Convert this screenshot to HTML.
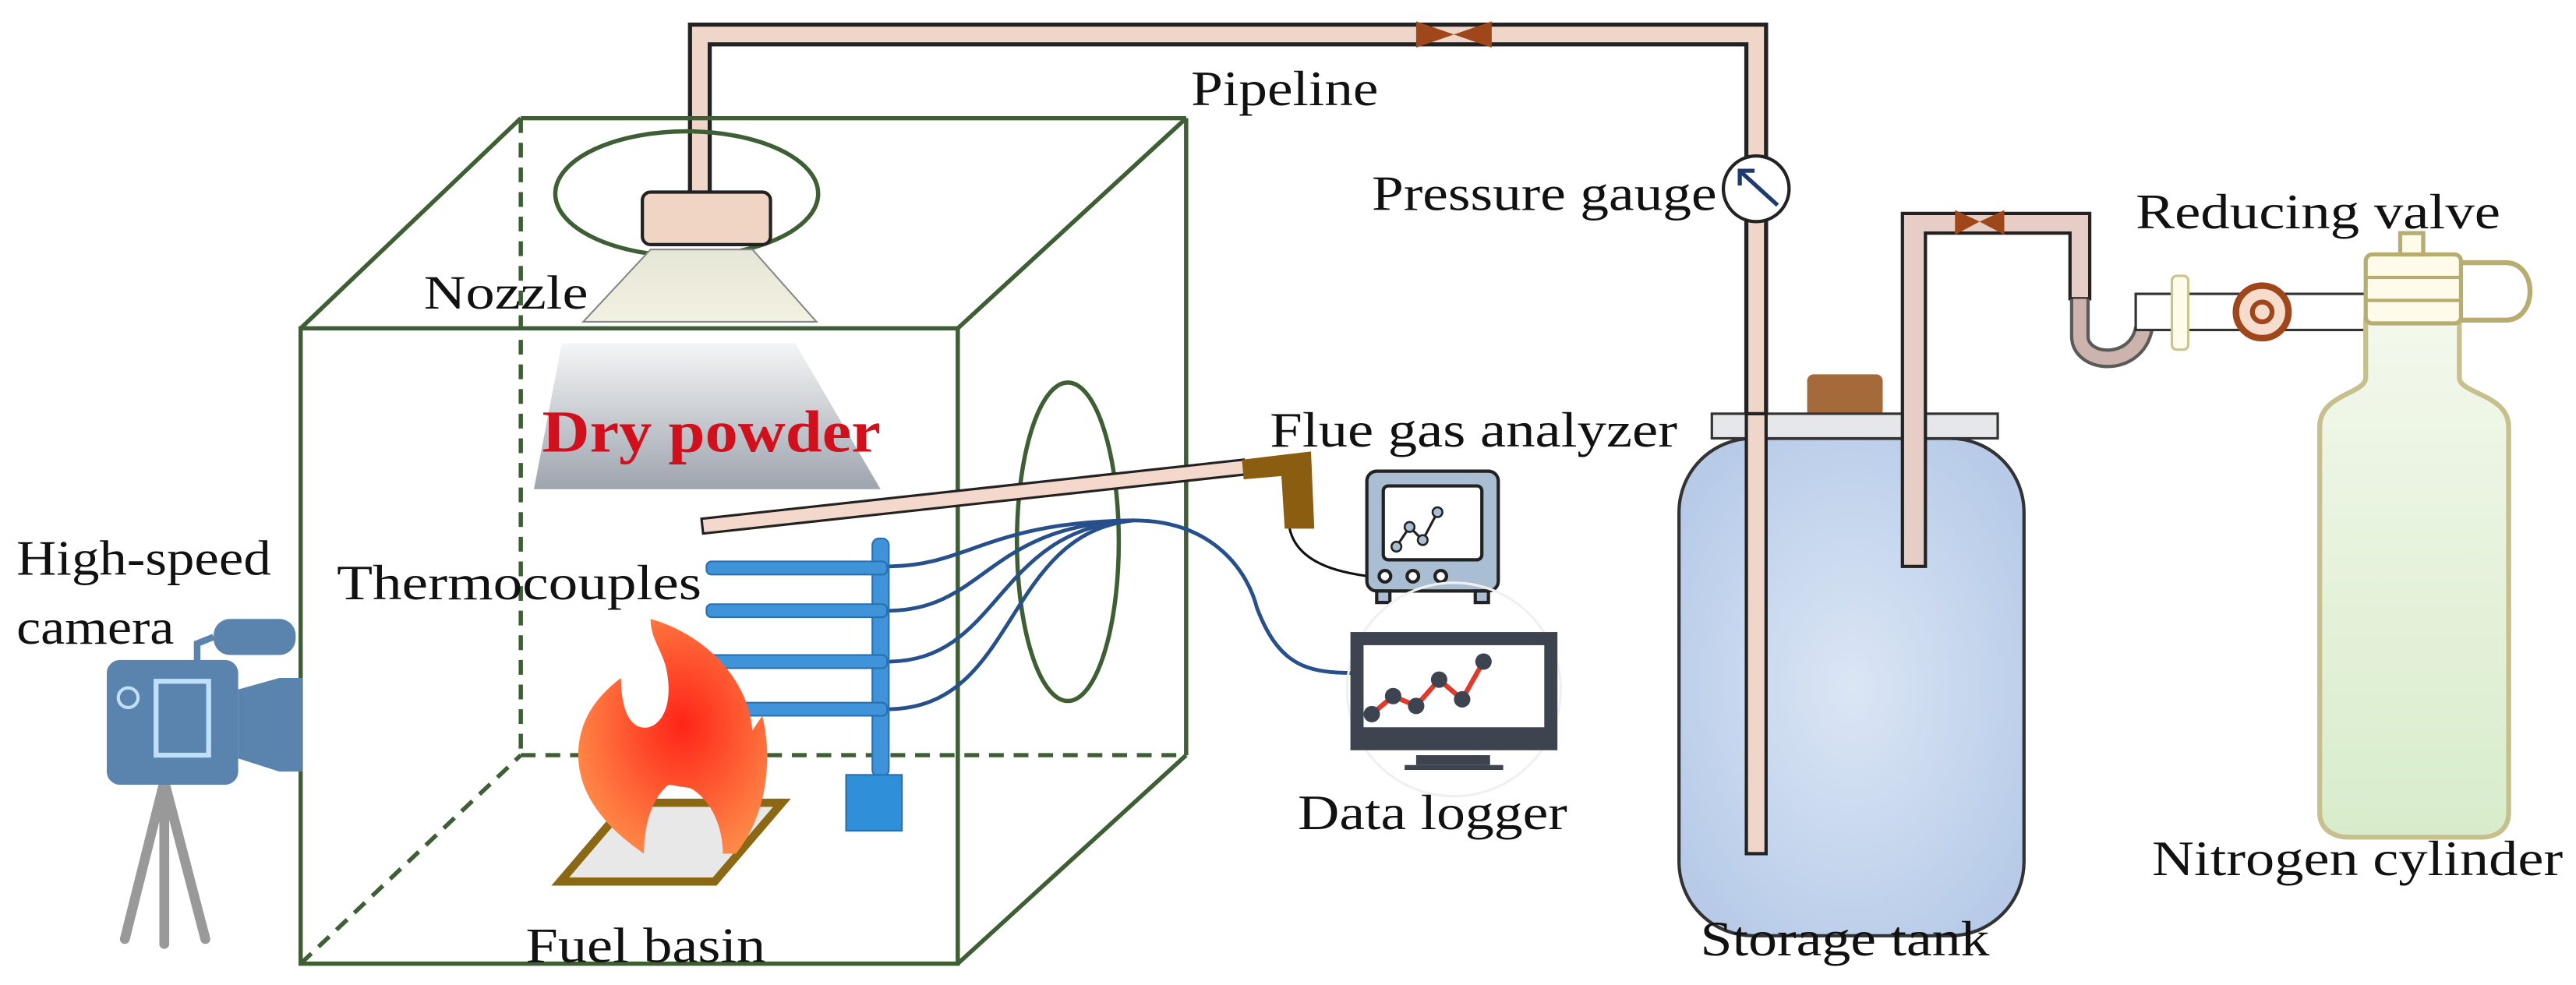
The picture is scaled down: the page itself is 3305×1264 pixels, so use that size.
<!DOCTYPE html>
<html><head><meta charset="utf-8"><style>
html,body{margin:0;padding:0;background:#fff;}
svg{display:block;}
</style></head><body>
<svg width="3305" height="1264" viewBox="0 0 1568 600" preserveAspectRatio="none" xmlns="http://www.w3.org/2000/svg" font-family="'Liberation Serif', 'DejaVu Serif', serif">
<defs>
<linearGradient id="dp" x1="0" y1="0" x2="0" y2="1"><stop offset="0" stop-color="#f4f5f6"/><stop offset="1" stop-color="#9ea4ae"/></linearGradient>
<linearGradient id="nz" x1="0" y1="0" x2="0" y2="1"><stop offset="0" stop-color="#e6e6d6"/><stop offset="1" stop-color="#f3f1e2"/></linearGradient>
<radialGradient id="tank" cx="0.5" cy="0.5" r="0.6"><stop offset="0" stop-color="#dbe6f5"/><stop offset="1" stop-color="#b7cbe8"/></radialGradient>
<linearGradient id="cyl" x1="0" y1="0" x2="0" y2="1"><stop offset="0" stop-color="#f3f8ec"/><stop offset="1" stop-color="#d8eccb"/></linearGradient>
<radialGradient id="fire" cx="0.55" cy="0.45" r="0.6"><stop offset="0" stop-color="#ff2418"/><stop offset="1" stop-color="#ff8a48"/></radialGradient>
</defs>

<!-- box back dashed -->
<g stroke="#3d5f33" stroke-width="2.6" fill="none">
<line x1="317" y1="72" x2="317" y2="460" stroke-dasharray="9,6"/>
<line x1="317" y1="460" x2="722" y2="460" stroke-dasharray="9,6"/>
<line x1="183" y1="587" x2="317" y2="460" stroke-dasharray="9,6"/>
</g>

<!-- pipeline -->
<path d="M420,118 L420,15 L1075,15 L1075,520 L1063,520 L1063,27 L432,27 L432,118 Z" fill="#f0d6c8" stroke="#222" stroke-width="2.5"/>
<path d="M862,13 L885,21 L862,29 Z M908,13 L885,21 L908,29 Z" fill="#a0461b"/>

<!-- nozzle -->
<ellipse cx="418" cy="118" rx="80" ry="38" fill="none" stroke="#3d5f33" stroke-width="2.6"/>
<rect x="391" y="117" width="78" height="32" rx="5" fill="#f0d5c5" stroke="#222" stroke-width="2"/>
<polygon points="396,152 458,152 497,196 355,196" fill="url(#nz)" stroke="#888" stroke-width="1"/>
<text x="258" y="188" font-size="29" textLength="100" lengthAdjust="spacingAndGlyphs" fill="#111">Nozzle</text>

<!-- dry powder -->
<polygon points="342,209 484,209 536,298 325,298" fill="url(#dp)"/>
<text x="330" y="275" font-size="36" font-weight="bold" fill="#d0101c" textLength="206" lengthAdjust="spacingAndGlyphs">Dry powder</text>

<!-- front box -->
<g stroke="#3d5f33" stroke-width="2.6" fill="none">
<rect x="183" y="200" width="400" height="387"/>
<line x1="183" y1="200" x2="317" y2="72"/>
<line x1="317" y1="72" x2="722" y2="72"/>
<line x1="583" y1="200" x2="722" y2="72"/>
<line x1="722" y1="72" x2="722" y2="460"/>
<line x1="583" y1="587" x2="722" y2="460"/>
</g>

<!-- side ellipse -->
<ellipse cx="650" cy="330" rx="31" ry="97" fill="none" stroke="#3d5f33" stroke-width="2.6"/>

<!-- probe -->
<polygon points="427,316 757,280 758,289 428,325" fill="#f5d8cc" stroke="#222" stroke-width="1.5"/>
<path d="M756,280 L798,275 L800,322 L782,322 L780,290 L757,292 Z" fill="#8b5d10"/>
<path d="M785,322 C790,345 820,350 842,352" fill="none" stroke="#111" stroke-width="1.5"/>

<!-- wires -->
<g stroke="#264f8c" stroke-width="2.3" fill="none">
<path d="M540,345 C590,345 600,318 690,317"/>
<path d="M540,372 C600,372 600,320 690,317"/>
<path d="M540,403 C610,403 605,322 690,317"/>
<path d="M540,432 C620,432 610,325 690,317"/>
<path d="M690,317 C740,317 760,350 765,370 C780,410 800,410 832,410"/>
</g>

<!-- rack -->
<g fill="#3f93d8" stroke="#2a6fb0" stroke-width="1">
<rect x="531" y="328" width="10" height="145" rx="4"/>
<rect x="430" y="342" width="110" height="8" rx="3"/>
<rect x="430" y="368" width="110" height="8" rx="3"/>
<rect x="430" y="399" width="110" height="8" rx="3"/>
<rect x="430" y="428" width="110" height="8" rx="3"/>
<rect x="515" y="472" width="34" height="34" fill="#2f8fd8"/>
</g>

<!-- fuel basin & fire -->
<polygon points="382,489 476,489 435,537 341,537" fill="#e8e8e8" stroke="#8b6914" stroke-width="5"/>
<path d="M396,377 C425,385 455,410 458,445 L464,436 C470,460 468,495 448,520 L440,520 C440,500 430,485 420,480 L407,478 C398,485 392,500 392,520 C370,505 352,485 352,460 C352,440 362,425 378,413 C378,435 385,445 395,443 C405,440 410,425 405,405 C402,395 396,388 396,377 Z" fill="url(#fire)"/>

<text x="205" y="365" font-size="30" fill="#111" textLength="222" lengthAdjust="spacingAndGlyphs">Thermocouples</text>
<text x="320" y="586" font-size="30" fill="#111" textLength="146" lengthAdjust="spacingAndGlyphs">Fuel basin</text>

<!-- camera -->
<g>
<line x1="100" y1="476" x2="76" y2="572" stroke="#999" stroke-width="6" stroke-linecap="round"/>
<line x1="100" y1="476" x2="100" y2="575" stroke="#999" stroke-width="6" stroke-linecap="round"/>
<line x1="100" y1="476" x2="125" y2="572" stroke="#999" stroke-width="6" stroke-linecap="round"/>
<rect x="65" y="402" width="80" height="76" rx="8" fill="#5a84ad"/>
<polygon points="145,420 170,413 184,413 184,470 170,470 145,462" fill="#5a84ad"/>
<rect x="130" y="377" width="50" height="22" rx="10" fill="#5a84ad"/>
<path d="M120,403 L120,392 L130,388" stroke="#5a84ad" stroke-width="4" fill="none"/>
<rect x="95" y="415" width="32" height="45" fill="none" stroke="#bfe0f8" stroke-width="3"/>
<circle cx="78" cy="425" r="6" fill="none" stroke="#bfe0f8" stroke-width="2"/>
</g>
<text x="10" y="350" font-size="30" fill="#111" textLength="155" lengthAdjust="spacingAndGlyphs">High-speed</text>
<text x="10" y="392" font-size="30" fill="#111" textLength="96" lengthAdjust="spacingAndGlyphs">camera</text>

<!-- flue gas analyzer -->
<g stroke="#222" stroke-width="2">
<rect x="832" y="287" width="80" height="73" rx="6" fill="#a9bed3"/>
<rect x="842" y="296" width="60" height="45" rx="3" fill="#fff"/>
<polyline points="850,333 858,321 866,329 875,312" fill="none" stroke-width="1.5"/>
<circle cx="850" cy="333" r="3" fill="#a9bed3" stroke-width="1.2"/><circle cx="858" cy="321" r="3" fill="#a9bed3" stroke-width="1.2"/><circle cx="866" cy="329" r="3" fill="#a9bed3" stroke-width="1.2"/><circle cx="875" cy="312" r="3" fill="#a9bed3" stroke-width="1.2"/>
<circle cx="843" cy="351" r="3.5" fill="#fff"/><circle cx="860" cy="351" r="3.5" fill="#fff"/><circle cx="877" cy="351" r="3.5" fill="#fff"/>
<rect x="838" y="360" width="8" height="7" fill="#a9bed3"/><rect x="898" y="360" width="8" height="7" fill="#a9bed3"/>
</g>
<text x="773" y="272" font-size="30" fill="#111" textLength="248" lengthAdjust="spacingAndGlyphs">Flue gas analyzer</text>

<!-- data logger -->
<circle cx="885" cy="420" r="65" fill="none" stroke="#f0f0f0" stroke-width="1.5"/>
<rect x="822" y="385" width="126" height="72" fill="#3d4450"/>
<rect x="830" y="393" width="110" height="50" fill="#fff"/>
<polyline points="835,435 848,424 862,430 876,414 890,426 903,403" fill="none" stroke="#e03a2a" stroke-width="3"/>
<g fill="#3d4450"><circle cx="835" cy="435" r="5"/><circle cx="848" cy="424" r="5"/><circle cx="862" cy="430" r="5"/><circle cx="876" cy="414" r="5"/><circle cx="890" cy="426" r="5"/><circle cx="903" cy="403" r="5"/></g>
<rect x="862" y="460" width="45" height="6" fill="#3d4450"/><rect x="855" y="466" width="60" height="3" fill="#3d4450"/>
<text x="790" y="505" font-size="30" fill="#111" textLength="164" lengthAdjust="spacingAndGlyphs">Data logger</text>

<!-- pressure gauge -->
<circle cx="1069" cy="115" r="20" fill="#fff" stroke="#222" stroke-width="2"/>
<line x1="1082" y1="125" x2="1060" y2="105" stroke="#1f3b6b" stroke-width="2.5"/>
<polyline points="1059,113 1059,104 1068,104" fill="none" stroke="#1f3b6b" stroke-width="2.5"/>
<text x="835" y="128" font-size="30" fill="#111" textLength="210" lengthAdjust="spacingAndGlyphs">Pressure gauge</text>
<text x="725" y="64" font-size="30" fill="#111" textLength="114" lengthAdjust="spacingAndGlyphs">Pipeline</text>

<!-- storage tank -->
<rect x="1022" y="267" width="210" height="303" rx="45" fill="url(#tank)" stroke="#333" stroke-width="2"/>
<rect x="1100" y="228" width="46" height="26" rx="4" fill="#a56a3a"/>
<rect x="1042" y="252" width="174" height="15" fill="#e6e7ea" stroke="#333" stroke-width="1.5"/>
<rect x="1063" y="252" width="12" height="268" fill="#f0d6c8" stroke="#222" stroke-width="2"/>
<!-- second pipe -->
<path d="M1158,345 L1158,130 L1272,130 L1272,182 L1260,182 L1260,142 L1172,142 L1172,345 Z" fill="#e6cdc6" stroke="#222" stroke-width="2"/>
<path d="M1190,128 L1205,135 L1190,143 Z M1220,128 L1205,135 L1220,143 Z" fill="#a0461b"/>
<path d="M1266,182 L1266,205 C1266,222 1300,225 1305,200" fill="none" stroke="#5a5a5a" stroke-width="12"/>
<path d="M1266,182 L1266,205 C1266,222 1300,225 1305,200" fill="none" stroke="#cdb3ad" stroke-width="8"/>
<text x="1035" y="582" font-size="30" fill="#111" textLength="176" lengthAdjust="spacingAndGlyphs">Storage tank</text>

<!-- regulator -->
<rect x="1300" y="179" width="142" height="22" fill="#fff" stroke="#333" stroke-width="1.5"/>
<rect x="1322" y="168" width="10" height="45" rx="3" fill="#fffbea" stroke="#ccc48e" stroke-width="1.5"/>
<circle cx="1377" cy="190" r="16" fill="#f6dccd" stroke="#a0461b" stroke-width="4"/>
<circle cx="1377" cy="190" r="6" fill="none" stroke="#a0461b" stroke-width="3"/>
<text x="1300" y="139" font-size="30" fill="#111" textLength="222" lengthAdjust="spacingAndGlyphs">Reducing valve</text>

<!-- nitrogen cylinder -->
<path d="M1440,195 L1440,230 C1440,240 1412,240 1412,260 L1412,495 C1412,505 1420,510 1430,510 L1510,510 C1520,510 1527,505 1527,495 L1527,260 C1527,240 1497,240 1497,230 L1497,195 Z" fill="url(#cyl)" stroke="#c8bf8e" stroke-width="3"/>
<rect x="1440" y="155" width="58" height="42" rx="4" fill="#fffbea" stroke="#b7ad70" stroke-width="2.5"/>
<line x1="1440" y1="169" x2="1498" y2="169" stroke="#b7ad70" stroke-width="2"/>
<line x1="1440" y1="183" x2="1498" y2="183" stroke="#b7ad70" stroke-width="2"/>
<rect x="1461" y="142" width="14" height="13" fill="#fffbea" stroke="#b7ad70" stroke-width="2.5"/>
<path d="M1498,160 L1525,160 C1545,160 1545,195 1525,195 L1498,195" fill="none" stroke="#b7ad70" stroke-width="3"/>
<text x="1310" y="533" font-size="30" fill="#111" textLength="250" lengthAdjust="spacingAndGlyphs">Nitrogen cylinder</text>
</svg>
</body></html>
